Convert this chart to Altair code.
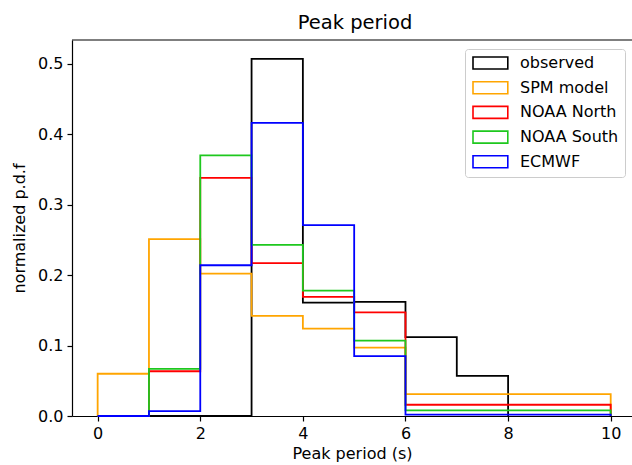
import altair as alt
import pandas as pd

# Bin edges (s)
model_edges = [0, 1, 2, 3, 4, 5, 6, 10]
obs_edges = [0, 1, 2, 3, 4, 5, 6, 7, 8]

# Normalized densities per bin
observed = [0.0, 0.0, 0.0, 0.507, 0.161, 0.162, 0.112, 0.057]
spm_model = [0.060, 0.251, 0.202, 0.142, 0.124, 0.097, 0.031]
noaa_north = [0.0, 0.0635, 0.338, 0.217, 0.169, 0.147, 0.016]
noaa_south = [0.0, 0.067, 0.370, 0.243, 0.178, 0.107, 0.008]
ecmwf = [0.0, 0.007, 0.214, 0.416, 0.271, 0.085, 0.002]

series_names = ["observed", "SPM model", "NOAA North", "NOAA South", "ECMWF"]
series_colors = ["#000000", "#ffa500", "#ff0000", "#1ec81e", "#0000ff"]
series_data = [
    (obs_edges, observed),
    (model_edges, spm_model),
    (model_edges, noaa_north),
    (model_edges, noaa_south),
    (model_edges, ecmwf),
]

TITLE = "Peak period"
FONT = "DejaVu Sans"
W, H = 560, 376


def step_rows(name, edges, heights):
    """Outline of an unfilled step histogram (matplotlib histtype='step')."""
    rows = [{"series": name, "x": edges[0], "y": 0.0, "k": 0}]
    for i, h in enumerate(heights):
        rows.append({"series": name, "x": edges[i], "y": h, "k": i + 1})
    rows.append({"series": name, "x": edges[-1], "y": 0.0, "k": len(heights) + 1})
    return rows


records = []
for name, (edges, vals) in zip(series_names, series_data):
    records += step_rows(name, edges, vals)
df = pd.DataFrame(records)

x_enc = alt.X(
    "x:Q",
    scale=alt.Scale(domain=[-0.5, 10.415], nice=False, zero=False),
    axis=alt.Axis(values=[0, 2, 4, 6, 8, 10], format="d", title="Peak period (s)"),
)
y_enc = alt.Y(
    "y:Q",
    scale=alt.Scale(domain=[0, 0.5337], nice=False, zero=True),
    axis=alt.Axis(values=[0, 0.1, 0.2, 0.3, 0.4, 0.5], format=".1f",
                  title="normalized p.d.f"),
)
color_enc = alt.Color(
    "series:N",
    scale=alt.Scale(domain=series_names, range=series_colors),
    legend=alt.Legend(title=None),
)

layers = []
for name in series_names:
    layers.append(
        alt.Chart(df)
        .transform_filter(alt.datum.series == name)
        .mark_line(interpolate="step-after", strokeWidth=1.8)
        .encode(x=x_enc, y=y_enc, color=color_enc, order="k:Q")
    )

one_row = pd.DataFrame({"label": [TITLE]})

# top spine
top_spine = alt.Chart(one_row).mark_rule(color="black", strokeWidth=1.2).encode(
    x=alt.value(0), x2=alt.value(W), y=alt.value(0)
)

# chart title above the plot frame
title_text = alt.Chart(one_row).mark_text(
    font=FONT, fontSize=19.5, color="black", align="center", baseline="alphabetic"
).encode(x=alt.value(W / 2 + 3), y=alt.value(-11), text="label:N")

chart = (
    alt.layer(*layers, top_spine, title_text)
    .properties(
        width=W,
        height=H,
        autosize=alt.AutoSizeParams(type="none"),
        padding={"left": 72, "top": 40, "right": 0, "bottom": 49},
    )
    .configure_view(stroke=None)
    .configure_axis(
        labelFont=FONT, titleFont=FONT, labelFontSize=16, titleFontSize=16,
        labelColor="black", titleColor="black", titleFontWeight="normal",
        domainColor="black", domainWidth=1.2, tickColor="black", tickWidth=1.2,
        tickSize=5, labelPadding=4, grid=False,
    )
    .configure_axisX(titlePadding=4)
    .configure_axisY(titlePadding=10)
    .configure_legend(
        orient="none", legendX=393, legendY=9,
        strokeColor="#cccccc", fillColor="white", cornerRadius=3, padding=6,
        labelFont=FONT, labelFontSize=16, labelColor="black", labelOffset=33,
        symbolType="M-1,-1H4.8V1H-1Z", symbolSize=144, symbolStrokeWidth=1.6,
        symbolFillColor="transparent", rowPadding=4.7,
    )
)

chart.save("out.html", embed_options={"renderer": "svg", "actions": False})
